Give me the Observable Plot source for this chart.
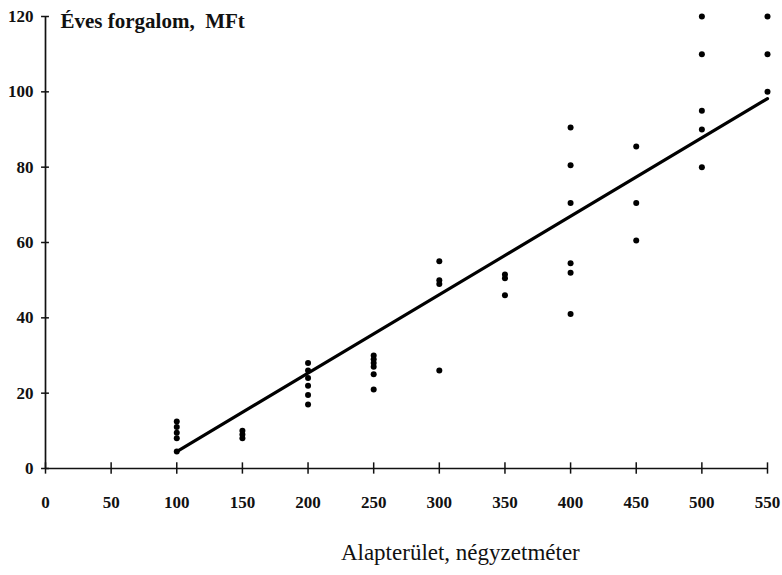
<!DOCTYPE html>
<html>
<head>
<meta charset="utf-8">
<script src="https://cdn.jsdelivr.net/npm/d3@7"></script>
<script src="https://cdn.jsdelivr.net/npm/@observablehq/plot@0.6"></script>
<style>
  html, body { margin: 0; padding: 0; background: #fff; }
  #chart svg { display: block; }
</style>
</head>
<body>
<div id="chart"></div>
<script>
// Area (m²) groups and annual turnover (MFt)
const area100 = [12.5, 11, 9.5, 8, 4.5];
const area150 = [10, 9, 8];
const area200 = [28, 26, 24, 22, 19.5, 17];
const area250 = [30, 29, 28, 27, 25, 21];
const area300 = [55, 50, 49, 26];
const area350 = [51.5, 50.5, 46];
const area400 = [90.5, 80.5, 70.5, 54.5, 52, 41];
const area450 = [85.5, 70.5, 60.5];
const area500 = [120, 110, 95, 90, 80];
const area550 = [120, 110, 100];
const groupAreas = [100, 150, 200, 250, 300, 350, 400, 450, 500, 550];
const groupValues = [area100, area150, area200, area250, area300, area350, area400, area450, area500, area550];

// Fitted regression line endpoints
const lineX = [100, 550];
const lineY = [4.5, 98.2];

const xTicks = [0, 50, 100, 150, 200, 250, 300, 350, 400, 450, 500, 550];
const yTicks = [0, 20, 40, 60, 80, 100, 120];
const yTitle = "Éves forgalom,  MFt";
const xTitle = "Alapterület, négyzetméter";

const points = groupAreas.flatMap((a, i) => groupValues[i].map(v => ({area: a, value: v})));
const line = lineX.map((x, i) => ({x, y: lineY[i]}));

const serif = "'Liberation Serif', 'DejaVu Serif', serif";

const chart = Plot.plot({
  width: 782,
  height: 575,
  marginLeft: 45,
  marginRight: 15,
  marginTop: 16,
  marginBottom: 107,
  x: {domain: [0, 550], axis: null},
  y: {domain: [0, 120], axis: null},
  style: {fontFamily: serif, color: "#000", background: "#fff"},
  marks: [
    Plot.ruleY([0], {stroke: "#111", strokeWidth: 1.7}),
    Plot.ruleX([0], {stroke: "#111", strokeWidth: 1.7}),
    Plot.ruleX(xTicks, {x: d => d, y1: -1.5, y2: 1.5, stroke: "#111", strokeWidth: 1.5}),
    Plot.ruleY(yTicks, {y: d => d, x1: -3, x2: 3, stroke: "#111", strokeWidth: 1.5}),
    Plot.text(xTicks, {x: d => d, y: 0, dy: 34, text: d => String(d), fontSize: 17, fontWeight: "bold", fill: "#111"}),
    Plot.text(yTicks, {x: 0, y: d => d, dx: -12, textAnchor: "end", text: d => String(d), fontSize: 17, fontWeight: "bold", fill: "#111"}),
    Plot.line(line, {x: "x", y: "y", stroke: "#000", strokeWidth: 3.2}),
    Plot.dot(points, {x: "area", y: "value", r: 3, fill: "#000", stroke: "none"}),
    Plot.text([yTitle], {frameAnchor: "top-left", dx: 15, dy: 5, textAnchor: "start", lineAnchor: "middle", fontSize: 21, fontWeight: "bold", fill: "#111"}),
    Plot.text([xTitle], {x: 316, y: 0, dy: 84, textAnchor: "middle", fontSize: 23, fill: "#111"})
  ]
});
document.getElementById("chart").appendChild(chart);
</script>
</body>
</html>
